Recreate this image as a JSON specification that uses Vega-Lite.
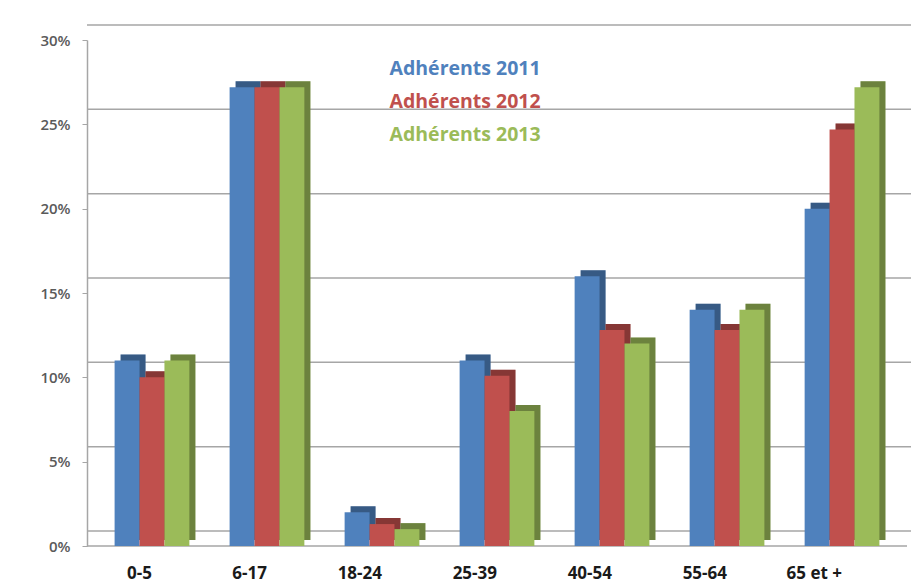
{
  "$schema": "https://vega.github.io/schema/vega-lite/v6.json",
  "width": 820,
  "height": 506,
  "autosize": {"type": "none"},
  "padding": {"left": 87, "top": 40, "right": 4, "bottom": 36},
  "background": "white",
  "config": {"view": {"stroke": null}, "font": "Open Sans"},
  "datasets": {
    "bars": [
      {"age": "0-5", "serie": "Adhérents 2011", "pct": 11},
      {"age": "0-5", "serie": "Adhérents 2012", "pct": 10},
      {"age": "0-5", "serie": "Adhérents 2013", "pct": 11},
      {"age": "6-17", "serie": "Adhérents 2011", "pct": 27.2},
      {"age": "6-17", "serie": "Adhérents 2012", "pct": 27.2},
      {"age": "6-17", "serie": "Adhérents 2013", "pct": 27.2},
      {"age": "18-24", "serie": "Adhérents 2011", "pct": 2},
      {"age": "18-24", "serie": "Adhérents 2012", "pct": 1.3},
      {"age": "18-24", "serie": "Adhérents 2013", "pct": 1},
      {"age": "25-39", "serie": "Adhérents 2011", "pct": 11},
      {"age": "25-39", "serie": "Adhérents 2012", "pct": 10.1},
      {"age": "25-39", "serie": "Adhérents 2013", "pct": 8},
      {"age": "40-54", "serie": "Adhérents 2011", "pct": 16},
      {"age": "40-54", "serie": "Adhérents 2012", "pct": 12.8},
      {"age": "40-54", "serie": "Adhérents 2013", "pct": 12},
      {"age": "55-64", "serie": "Adhérents 2011", "pct": 14},
      {"age": "55-64", "serie": "Adhérents 2012", "pct": 12.8},
      {"age": "55-64", "serie": "Adhérents 2013", "pct": 14},
      {"age": "65 et +", "serie": "Adhérents 2011", "pct": 20},
      {"age": "65 et +", "serie": "Adhérents 2012", "pct": 24.7},
      {"age": "65 et +", "serie": "Adhérents 2013", "pct": 27.2}
    ],
    "grid": [{"v": 0}, {"v": 5}, {"v": 10}, {"v": 15}, {"v": 20}, {"v": 25}, {"v": 30}]
  },
  "layer": [
    {
      "data": {"name": "grid"},
      "mark": {"type": "rule", "color": "#a6a6a6", "strokeWidth": 1.5, "xOffset": 16, "yOffset": -15},
      "encoding": {
        "y": {"field": "v", "type": "quantitative", "scale": {"domain": [0, 30]}}
      }
    },
    {
      "data": {"name": "grid"},
      "transform": [{"filter": "datum.v == 0"}],
      "mark": {"type": "rule", "color": "#a6a6a6", "strokeWidth": 1.5},
      "encoding": {
        "y": {"field": "v", "type": "quantitative", "scale": {"domain": [0, 30]}}
      }
    },
    {
      "data": {"name": "bars"},
      "mark": {"type": "bar", "yOffset": -6, "y2Offset": -6},
      "encoding": {
        "x": {"field": "age", "type": "nominal", "sort": null,
              "scale": {"paddingInner": 0.35, "paddingOuter": 0.24}},
        "xOffset": {"field": "serie", "type": "nominal", "scale": {"range": [6, 80.8]}},
        "y": {"field": "pct", "type": "quantitative", "scale": {"domain": [0, 30]}},
        "fill": {"field": "serie", "type": "nominal"}
      }
    },
    {
      "data": {"name": "bars"},
      "mark": {"type": "bar", "yOffset": -6, "y2Offset": -6, "color": "black", "opacity": 0.3},
      "encoding": {
        "x": {"field": "age", "type": "nominal", "sort": null,
              "scale": {"paddingInner": 0.35, "paddingOuter": 0.24}},
        "xOffset": {"field": "serie", "type": "nominal", "scale": {"range": [6, 80.8]}},
        "y": {"field": "pct", "type": "quantitative", "scale": {"domain": [0, 30]}}
      }
    },
    {
      "data": {"name": "bars"},
      "mark": {"type": "bar"},
      "encoding": {
        "x": {"field": "age", "type": "nominal", "sort": null,
              "scale": {"paddingInner": 0.35, "paddingOuter": 0.24},
              "axis": {"title": null, "domain": false, "ticks": false, "labelAngle": 0,
                       "labelFont": "Open Sans", "labelFontWeight": "bold", "labelFontSize": 17,
                       "labelColor": "#1a1a1a", "labelPadding": 27}},
        "xOffset": {"field": "serie", "type": "nominal"},
        "y": {"field": "pct", "type": "quantitative", "scale": {"domain": [0, 30]},
              "axis": {"title": null, "values": [0, 5, 10, 15, 20, 25, 30], "grid": false,
                       "labelExpr": "datum.value + '%'", "domainColor": "#a6a6a6", "domainWidth": 1.5,
                       "tickColor": "#a6a6a6", "tickSize": 5, "labelPadding": 12,
                       "labelFont": "Open Sans", "labelFontSize": 15, "labelFontWeight": 600,
                       "labelColor": "#5a5a5a"}},
        "fill": {"field": "serie", "type": "nominal",
                 "scale": {"domain": ["Adhérents 2011", "Adhérents 2012", "Adhérents 2013"],
                           "range": ["#4f81bd", "#c0504d", "#9bbb59"]},
                 "legend": {"title": null, "orient": "none", "legendX": 283, "legendY": 19,
                            "symbolSize": 0, "symbolOpacity": 0, "symbolStrokeWidth": 0,
                            "labelFont": "Open Sans", "labelFontSize": 19.5, "labelFontWeight": "bold",
                            "rowPadding": 12, "labelOffset": 0,
                            "encode": {"labels": {"update": {"fill": {"signal": "scale('fill', datum.value)"}}}}}}
      }
    }
  ],
  "resolve": {"scale": {"xOffset": "independent"}}
}
